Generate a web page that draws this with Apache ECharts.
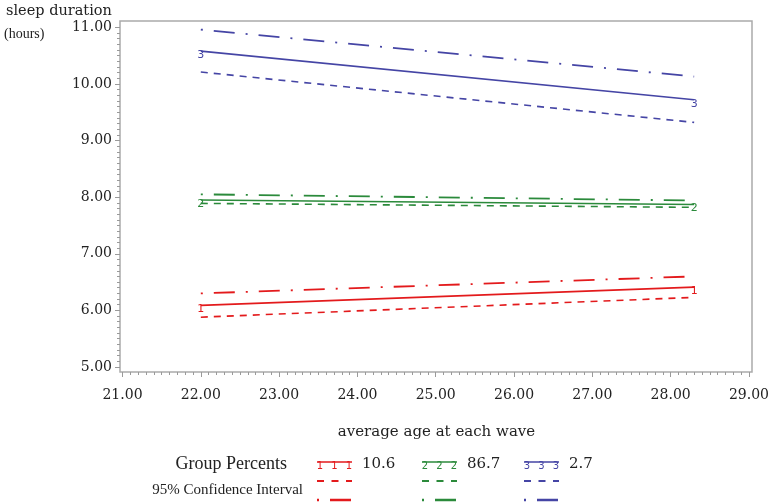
<!DOCTYPE html>
<html><head><meta charset="utf-8">
<script src="https://cdn.jsdelivr.net/npm/echarts@6/dist/echarts.min.js"></script>
<style>html,body{margin:0;padding:0;background:#fff}#c{width:772px;height:504px}</style>
</head><body><div id="c"></div>
<script>
// ---- data ----
const ages = [22.0, 28.3];
const groupIds = ['1', '2', '3'];
const groupPercents = ['10.6', '86.7', '2.7'];
const g1Mean = [6.09, 6.41];
const g1Lower = [5.88, 6.23];
const g1Upper = [6.30, 6.60];
const g2Mean = [7.95, 7.87];
const g2Lower = [7.89, 7.82];
const g2Upper = [8.05, 7.94];
const g3Mean = [10.58, 9.72];
const g3Lower = [10.21, 9.32];
const g3Upper = [10.96, 10.13];
const xMin = 21, xMax = 29, xStep = 1;
const yMin = 5, yMax = 11, yStep = 1;
const xTitle = 'average age at each wave';
const yTitle = 'sleep duration';
const yUnit = '(hours)';
const legendTitle = 'Group Percents';
const ciTitle = '95% Confidence Interval';

// ---- styles ----
const colors = ['#e31a1c', '#2b8a3b', '#4545a5'];
const DASH = [7, 6];
const DASHDOT = [2, 11, 21, 11];
const serif = 'DejaVu Serif';
const serif2 = 'Liberation Serif';

const groups = [
  {mean: g1Mean, lower: g1Lower, upper: g1Upper},
  {mean: g2Mean, lower: g2Lower, upper: g2Upper},
  {mean: g3Mean, lower: g3Lower, upper: g3Upper}
];
const pairs = arr => ages.map((a, i) => [a, arr[i]]);

const series = [];
groups.forEach((g, k) => {
  const c = colors[k];
  series.push({
    type: 'line', xAxisIndex: 1, yAxisIndex: 1, data: pairs(g.upper),
    symbol: 'none', silent: true, z: 2,
    lineStyle: {color: c, width: 1.8, type: DASHDOT, cap: 'butt'}
  });
  series.push({
    type: 'line', xAxisIndex: 1, yAxisIndex: 1, data: pairs(g.lower),
    symbol: 'none', silent: true, z: 2,
    lineStyle: {color: c, width: 1.6, type: DASH, cap: 'butt'}
  });
  series.push({
    type: 'line', xAxisIndex: 1, yAxisIndex: 1, data: pairs(g.mean),
    symbol: 'circle', symbolSize: 1, showSymbol: true, silent: true, z: 3,
    itemStyle: {color: 'rgba(0,0,0,0)'},
    lineStyle: {color: c, width: 1.7},
    label: {show: true, position: 'inside', offset: [0, 4], formatter: groupIds[k],
            color: c, fontFamily: 'DejaVu Sans', fontSize: 11},
    emphasis: {disabled: true}
  });
});

// ---- legend (graphic) ----
const graphic = [];
const txt = (x, y, text, font, align) => graphic.push({
  type: 'text', x: x, y: y, silent: true,
  style: {text: text, font: font, fill: '#222', textAlign: align || 'left', textVerticalAlign: 'middle'}
});
txt(6, 11, yTitle, '14.5px "' + serif + '"');
txt(4, 34, yUnit, '14px "' + serif2 + '"');
txt(436.5, 432, xTitle, '15px "' + serif + '"', 'center');
txt(287, 464, legendTitle, '18px "' + serif2 + '"', 'right');
txt(303, 490, ciTitle, '15px "' + serif2 + '"', 'right');

const legX = [317, 422, 524];
const legW = 35;
const rowY = [462, 481, 500];
legX.forEach((x0, k) => {
  const c = colors[k];
  graphic.push({type: 'line', silent: true, shape: {x1: x0, y1: rowY[0], x2: x0 + legW, y2: rowY[0]},
    style: {stroke: c, lineWidth: 1.6}});
  [x0 + 3, x0 + legW / 2, x0 + legW - 3].forEach(gx => graphic.push({
    type: 'text', x: gx, y: rowY[0] + 4, silent: true,
    style: {text: groupIds[k], font: '10px "DejaVu Sans"', fill: c, textAlign: 'center', textVerticalAlign: 'middle'}
  }));
  txt(x0 + legW + 10, 464, groupPercents[k], '15px "' + serif + '"');
  graphic.push({type: 'line', silent: true, shape: {x1: x0, y1: rowY[1], x2: x0 + legW, y2: rowY[1]},
    style: {stroke: c, lineWidth: 1.8, lineDash: [7, 7.5]}});
  graphic.push({type: 'line', silent: true, shape: {x1: x0, y1: rowY[2], x2: x0 + legW, y2: rowY[2]},
    style: {stroke: c, lineWidth: 2.5, lineDash: DASHDOT}});
});

const tickStyle = {color: '#9a9a9a', width: 1};
const option = {
  animation: false,
  backgroundColor: '#fff',
  grid: [
    {left: 120, top: 21, width: 632, height: 351, show: true, borderColor: '#ababab', borderWidth: 1.5, backgroundColor: 'transparent'},
    {left: 122.5, top: 27.3, width: 628.5, height: 339.7, show: false}
  ],
  xAxis: [
    {gridIndex: 0, type: 'value', show: false, min: 0, max: 1},
    {gridIndex: 1, type: 'value', min: xMin, max: xMax, interval: xStep, offset: 5,
      axisLine: {show: false}, splitLine: {show: false},
      axisTick: {show: true, length: 5, lineStyle: tickStyle},
      minorTick: {show: true, splitNumber: 10, length: 3, lineStyle: tickStyle},
      axisLabel: {margin: 16, color: '#222', fontFamily: serif, fontSize: 14,
        formatter: v => v.toFixed(2)}}
  ],
  yAxis: [
    {gridIndex: 0, type: 'value', show: false, min: 0, max: 1},
    {gridIndex: 1, type: 'value', min: yMin, max: yMax, interval: yStep, offset: 2.5,
      axisLine: {show: false}, splitLine: {show: false},
      axisTick: {show: true, length: 5, lineStyle: tickStyle},
      minorTick: {show: true, splitNumber: 10, length: 3, lineStyle: tickStyle},
      axisLabel: {margin: 8, color: '#222', fontFamily: serif, fontSize: 14,
        formatter: v => v.toFixed(2)}}
  ],
  series: series,
  graphic: graphic
};
const chart = echarts.init(document.getElementById('c'), null, {renderer: 'canvas'});
chart.setOption(option);
</script>
</body></html>
